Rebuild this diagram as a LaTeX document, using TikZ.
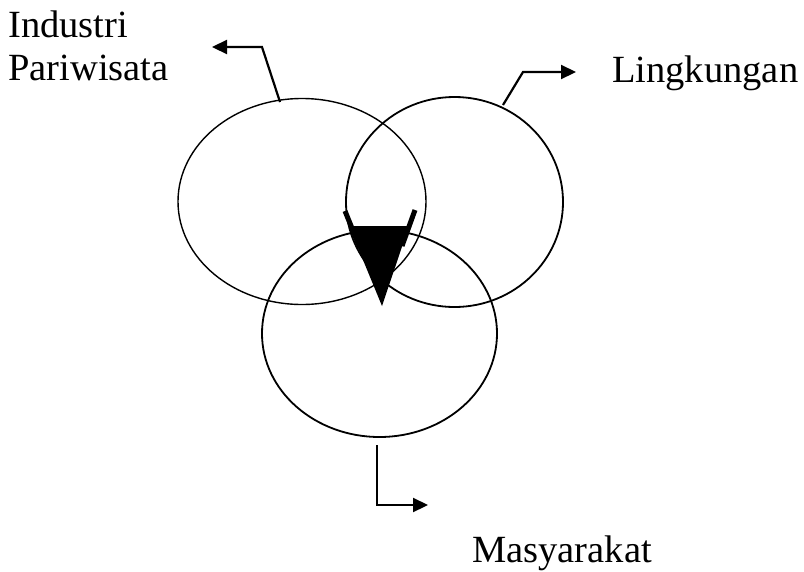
\documentclass[tikz,border=0pt]{standalone}
\usepackage{fontspec}
\setmainfont{Liberation Serif}
\usetikzlibrary{shapes.geometric,arrows.meta}
\tikzset{
  ring/.style={draw, ellipse, inner sep=0pt, line width=1.8pt},
  lbl/.style={anchor=base west, inner sep=0pt, font=\fontsize{38.5}{43}\selectfont},
  pointer/.style={line width=2.2pt, -{Triangle[length=15pt,width=14pt]}},
}
\begin{document}
\begin{tikzpicture}[x=1pt,y=-1pt]
\useasboundingbox (0,0) rectangle (804,571);
% circles
\node[ring, line width=1.4pt, minimum width=248pt, minimum height=206pt] (ind) at (302,201.5) {};
\node[ring, minimum width=217pt, minimum height=210pt] (lin) at (454.5,202) {};
\node[ring, minimum width=235pt, minimum height=207pt] (mas) at (379.5,333.5) {};
% central arrowhead
\fill (349,226) -- (409,226) -- (382,306) -- cycle;
\draw[line width=5pt] (345,211) -- (360,248);
\draw[line width=5pt] (415,210) -- (402,246);
% labels
\node[lbl] (t1) at (8,37) {Industri};
\node[lbl] (t2) at (8,80) {Pariwisata};
\node[lbl] (t3) at (612,82) {Lingkungan};
\node[lbl] (t4) at (472,562) {Masyarakat};
% connector points
\coordinate (s1) at (280,102);
\coordinate (e1) at (212,47);
\coordinate (s2) at (503,105);
\coordinate (e2) at (576,72);
\coordinate (s3) at (377,445);
\coordinate (e3) at (428,505);
\draw[pointer] (s1) -- (262,47) -- (e1);
\draw[pointer] (s2) -- (523,72) -- (e2);
\draw[pointer] (s3) -- (377,505) -- (e3);
\end{tikzpicture}
\end{document}
